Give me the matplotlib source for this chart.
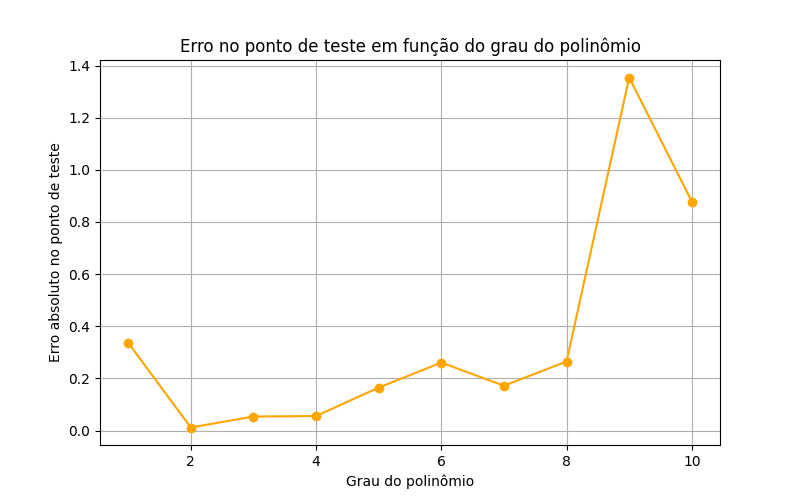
import matplotlib
matplotlib.use("Agg")
import matplotlib.pyplot as plt

degrees = [1, 2, 3, 4, 5, 6, 7, 8, 9, 10]
errors = [0.337, 0.012, 0.054, 0.056, 0.165, 0.261, 0.172, 0.265, 1.354, 0.878]

fig, ax = plt.subplots(figsize=(8, 5), dpi=100)
ax.plot(degrees, errors, marker='o', color='orange')
ax.set_title('Erro no ponto de teste em função do grau do polinômio')
ax.set_xlabel('Grau do polinômio')
ax.set_ylabel('Erro absoluto no ponto de teste')
ax.grid(True)
fig.savefig('out.png')
